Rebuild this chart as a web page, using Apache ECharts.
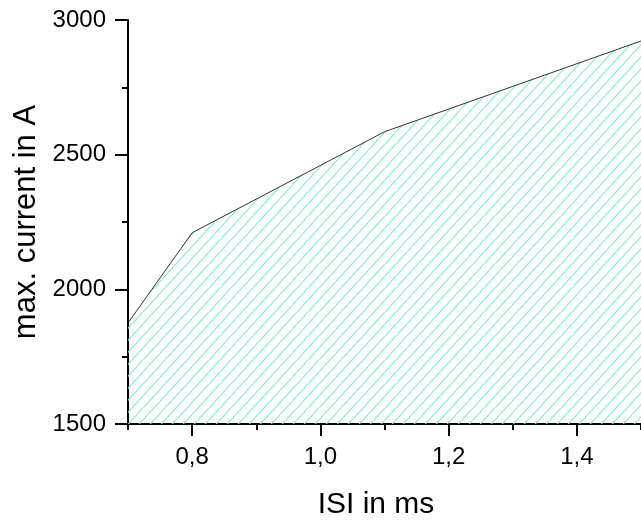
<!DOCTYPE html>
<html>
<head>
<meta charset="utf-8">
<script src="https://cdn.jsdelivr.net/npm/echarts@6/dist/echarts.min.js"></script>
<style>
html,body{margin:0;padding:0;background:#fff;}
#chart{width:641px;height:525px;}
</style>
</head>
<body>
<div id="chart"></div>
<script>
// Data
const isiMs = [0.7, 0.8, 1.1, 1.5];
const maxCurrent = [1875, 2210, 2585, 2922];
const xMajorTicks = [0.8, 1.0, 1.2, 1.4];
const xMinorTicks = [0.7, 0.9, 1.1, 1.3, 1.5];
const yTicks = [1500, 2000, 2500, 3000];

const seriesData = isiMs.map((x, i) => [x, maxCurrent[i]]);

// hatch pattern
const pat = document.createElement('canvas');
pat.width = 11; pat.height = 12;
const pctx = pat.getContext('2d');
pctx.strokeStyle = '#6ff2cf';
pctx.lineWidth = 1.1;
for (const k of [-11, 0, 11]) {
  pctx.beginPath();
  pctx.moveTo(k, 12);
  pctx.lineTo(k + 11, 0);
  pctx.stroke();
}

const font = "'Liberation Sans', Arial, sans-serif";
const chart = echarts.init(document.getElementById('chart'), null, {renderer: 'canvas'});
chart.setOption({
  animation: false,
  backgroundColor: '#fff',
  grid: {left: 128, top: 20, width: 520, height: 409, containLabel: false},
  xAxis: [{
    type: 'value', min: 0.7, max: 1.5,
    name: 'ISI in ms', nameLocation: 'middle', nameGap: 66,
    nameTextStyle: {fontFamily: font, fontSize: 30, color: '#000', padding: [0, 17, 0, 0]},
    axisLine: {show: true, onZero: false, lineStyle: {color: '#000', width: 2}},
    axisTick: {show: true, inside: false, length: 12, customValues: xMajorTicks, lineStyle: {color: '#000', width: 2}},
    axisLabel: {show: true, margin: 21, fontFamily: font, fontSize: 24, color: '#000', customValues: xMajorTicks,
      formatter: v => v.toFixed(1).replace('.', ',')},
    splitLine: {show: false}
  }, {
    type: 'value', min: 0.7, max: 1.5, position: 'bottom', gridIndex: 0,
    axisLine: {show: false},
    axisTick: {show: true, inside: false, length: 6, customValues: xMinorTicks, lineStyle: {color: '#000', width: 2}},
    axisLabel: {show: false},
    splitLine: {show: false}
  }],
  yAxis: {
    type: 'value', min: 1500, max: 3000, interval: 500,
    name: 'max. current in A', nameLocation: 'middle', nameGap: 81,
    nameTextStyle: {fontFamily: font, fontSize: 31, color: '#000'},
    axisLine: {show: true, onZero: false, lineStyle: {color: '#000', width: 2}},
    axisTick: {show: true, inside: false, length: 13, lineStyle: {color: '#000', width: 2}},
    minorTick: {show: true, splitNumber: 2, length: 6, lineStyle: {color: '#000', width: 2}},
    axisLabel: {show: true, margin: 22, fontFamily: font, fontSize: 24, color: '#000', customValues: yTicks,
      formatter: v => String(v)},
    splitLine: {show: false}
  },
  series: [{
    type: 'line',
    xAxisIndex: 0,
    data: seriesData,
    symbol: 'none',
    clip: true,
    lineStyle: {color: '#333', width: 1},
    areaStyle: {color: {image: pat, repeat: 'repeat'}, origin: 'start', opacity: 1},
    z: 1
  }]
});
</script>
</body>
</html>
